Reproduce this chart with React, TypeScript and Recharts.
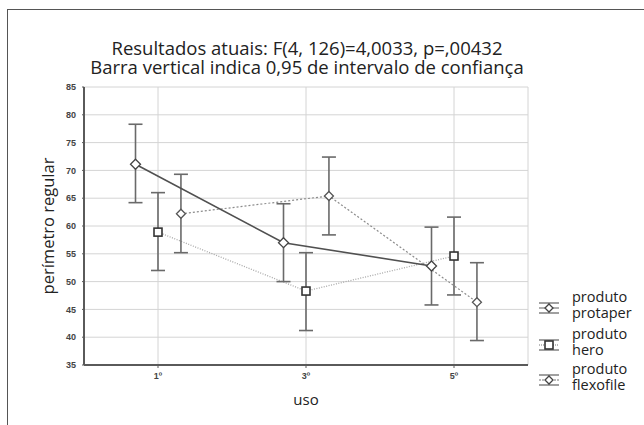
import {
  CartesianGrid,
  ComposedChart,
  ErrorBar,
  Line,
  XAxis,
  YAxis,
} from "recharts";

// uses (categories) and y ticks
const USES = ["1º", "3º", "5º"];
const Y_TICKS = [35, 40, 45, 50, 55, 60, 65, 70, 75, 80, 85];

// means and 0,95 confidence limits
const PROTAPER_MEAN = [71.1, 57.0, 52.8];
const PROTAPER_LOW = [64.2, 50.0, 45.8];
const PROTAPER_HIGH = [78.3, 64.0, 59.8];

const HERO_MEAN = [58.9, 48.3, 54.6];
const HERO_LOW = [52.0, 41.2, 47.6];
const HERO_HIGH = [66.0, 55.2, 61.6];

const FLEXO_MEAN = [62.2, 65.4, 46.3];
const FLEXO_LOW = [55.2, 58.4, 39.4];
const FLEXO_HIGH = [69.3, 72.4, 53.4];

const build = (mean: number[], low: number[], high: number[], shift: number) =>
  USES.map((u, i) => ({
    uso: u,
    x: i + 0.5 + shift,
    y: mean[i],
    err: [+(mean[i] - low[i]).toFixed(2), +(high[i] - mean[i]).toFixed(2)],
  }));

const protaper = build(PROTAPER_MEAN, PROTAPER_LOW, PROTAPER_HIGH, -0.152);
const hero = build(HERO_MEAN, HERO_LOW, HERO_HIGH, 0);
const flexofile = build(FLEXO_MEAN, FLEXO_LOW, FLEXO_HIGH, 0.155);

const AXIS = "#5a5a5a";
const TICK = { fontSize: 9, fill: "#444", fontFamily: "Liberation Sans", fontWeight: 700 };
const TEXT_FONT = "'Open Sans', Lato, sans-serif";

const Diamond = (props: any) => {
  const { cx, cy, r = 5, stroke = "#444" } = props;
  if (cx == null || cy == null) return null;
  return (
    <path
      d={`M${cx},${cy - r} L${cx + r},${cy} L${cx},${cy + r} L${cx - r},${cy} Z`}
      fill="#fff"
      stroke={stroke}
      strokeWidth={1.3}
    />
  );
};

const Square = (props: any) => {
  const { cx, cy } = props;
  if (cx == null || cy == null) return null;
  return <rect x={cx - 4} y={cy - 4} width={8} height={8} fill="#fff" stroke="#333" strokeWidth={1.6} />;
};

const LegendIcon = ({ kind, dash }: { kind: string; dash?: string }) => (
  <svg width={22} height={16} style={{ display: "block" }}>
    <line x1={1} y1={3} x2={21} y2={3} stroke="#777" strokeWidth={1.4} />
    <line x1={1} y1={13} x2={21} y2={13} stroke="#777" strokeWidth={1.4} />
    <line x1={1} y1={8} x2={21} y2={8} stroke="#777" strokeWidth={1.2} strokeDasharray={dash} />
    <line x1={11} y1={3} x2={11} y2={13} stroke="#777" strokeWidth={1.2} />
    {kind === "square" ? <Square cx={11} cy={8} /> : <Diamond cx={11} cy={8} r={4} />}
  </svg>
);

const LEGEND = [
  { name: "produto protaper", l1: "produto", l2: "protaper", kind: "diamond", dash: undefined, top: 0 },
  { name: "produto hero", l1: "produto", l2: "hero", kind: "square", dash: "1 1", top: 37 },
  { name: "produto flexofile", l1: "produto", l2: "flexofile", kind: "diamond", dash: "2 1", top: 72 },
];

const LegendBox = () => (
  <div style={{ position: "absolute", left: 538, top: 289, width: 110, height: 112, fontFamily: TEXT_FONT }}>
    {LEGEND.map((e) => (
      <div key={e.name} style={{ position: "absolute", left: 0, top: e.top, display: "flex", alignItems: "center" }}>
        <div style={{ marginTop: 6 }}>
          <LegendIcon kind={e.kind} dash={e.dash} />
        </div>
        <div style={{ marginLeft: 12, fontSize: 14.5, lineHeight: "16px", color: "#222", whiteSpace: "nowrap" }}>
          <div>{e.l1}</div>
          <div>{e.l2}</div>
        </div>
      </div>
    ))}
  </div>
);

export default function App() {
  return (
    <div style={{ position: "absolute", left: 0, top: 0, width: 644, height: 425, overflow: "hidden", background: "#fff" }}>
      <div
        style={{
          position: "absolute",
          left: 7,
          top: 9,
          width: 700,
          height: 500,
          border: "1.5px solid #555",
        }}
      />
      <div
        style={{
          position: "absolute",
          left: 0,
          width: 614,
          top: 38,
          textAlign: "center",
          fontFamily: TEXT_FONT,
          fontSize: 18.5,
          lineHeight: "19px",
          color: "#222",
        }}
      >
        <div>Resultados atuais: F(4, 126)=4,0033, p=,00432</div>
        <div>Barra vertical indica 0,95 de intervalo de confiança</div>
      </div>
      <ComposedChart
        width={644}
        height={425}
        margin={{ top: 87, right: 116, bottom: 30, left: 24 }}
        style={{ position: "absolute", left: 0, top: 0 }}
      >
        <CartesianGrid stroke="#d4d4d4" strokeWidth={1} />
        <XAxis
          type="number"
          dataKey="x"
          domain={[0, 3]}
          ticks={[0.5, 1.5, 2.5]}
          tickFormatter={(v: number) => USES[Math.floor(v)]}
          allowDataOverflow
          height={30}
          axisLine={{ stroke: AXIS, strokeWidth: 2 }}
          tickLine={{ stroke: AXIS }}
          tickSize={3}
          tickMargin={5}
          tick={TICK}
          label={{
            value: "uso",
            position: "insideBottom",
            offset: -10,
            style: { fontSize: 15, fill: "#222", fontFamily: TEXT_FONT },
          }}
        />
        <XAxis
          xAxisId="top"
          orientation="top"
          type="number"
          domain={[0, 3]}
          ticks={[0.5, 1.5, 2.5]}
          height={0}
          mirror
          axisLine={{ stroke: AXIS, strokeWidth: 2 }}
          tickLine={{ stroke: AXIS }}
          tickSize={4}
          tickFormatter={() => ""}
        />
        <YAxis
          domain={[35, 85]}
          ticks={Y_TICKS}
          width={60}
          axisLine={{ stroke: AXIS, strokeWidth: 2 }}
          tickLine={{ stroke: AXIS }}
          tickSize={2}
          tickMargin={6}
          tick={TICK}
          label={{
            value: "perímetro regular",
            angle: -90,
            position: "insideLeft",
            offset: 24,
            style: { textAnchor: "middle", fontSize: 16.5, fill: "#222", fontFamily: TEXT_FONT },
          }}
        />
        <YAxis
          yAxisId="right"
          orientation="right"
          domain={[35, 85]}
          ticks={Y_TICKS}
          width={0}
          mirror
          axisLine={{ stroke: AXIS, strokeWidth: 2 }}
          tickLine={{ stroke: AXIS }}
          tickSize={3}
          tickFormatter={() => ""}
        />
        <Line
          data={hero}
          dataKey="y"
          name="produto hero"
          stroke="#a8a8a8"
          strokeWidth={1.3}
          strokeDasharray="1 1.5"
          dot={<Square />}
          activeDot={false}
          isAnimationActive={false}
        >
          <ErrorBar dataKey="err" direction="y" width={7} stroke="#6a6a6a" strokeWidth={1.6} />
        </Line>
        <Line
          data={flexofile}
          dataKey="y"
          name="produto flexofile"
          stroke="#8c8c8c"
          strokeWidth={1.2}
          strokeDasharray="2 2"
          dot={<Diamond r={4.5} stroke="#555" />}
          activeDot={false}
          isAnimationActive={false}
        >
          <ErrorBar dataKey="err" direction="y" width={7} stroke="#6a6a6a" strokeWidth={1.6} />
        </Line>
        <Line
          data={protaper}
          dataKey="y"
          name="produto protaper"
          stroke="#505050"
          strokeWidth={1.6}
          dot={<Diamond r={5} stroke="#444" />}
          activeDot={false}
          isAnimationActive={false}
        >
          <ErrorBar dataKey="err" direction="y" width={7} stroke="#6a6a6a" strokeWidth={1.6} />
        </Line>
      </ComposedChart>
      <LegendBox />
    </div>
  );
}
